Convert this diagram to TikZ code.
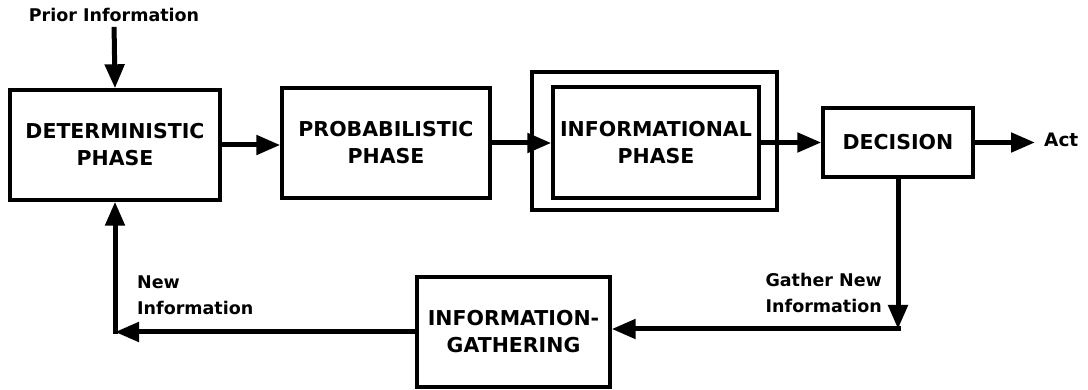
\documentclass[tikz,border=0pt]{standalone}
\usepackage{fontspec}
\setmainfont{DejaVu Sans}
\usetikzlibrary{arrows.meta}
\begin{document}
\begin{tikzpicture}[x=1pt,y=-1pt,
  blk/.style={draw, line width=3.4pt, inner sep=0pt, align=center,
    font=\fontsize{20.5}{27}\selectfont\bfseries},
  lbl/.style={inner sep=0pt, font=\fontsize{17.5}{26}\selectfont\bfseries},
  flow/.style={line width=5pt, -{Triangle[length=24pt,width=19pt]}},
  ]
\useasboundingbox (0,0) rectangle (1088,390);

\node[blk, minimum width=210pt, minimum height=110pt] (det) at (115,145) {DETERMINISTIC\\PHASE};
\node[blk, minimum width=208pt, minimum height=110pt] (prob) at (386,143) {PROBABILISTIC\\PHASE};
\node[blk, minimum width=245pt, minimum height=138pt] (outer) at (654.5,141) {};
\node[blk, minimum width=206pt, minimum height=111pt] (inner) at (656,142.5) {INFORMATIONAL\\PHASE};
\node[blk, minimum width=150pt, minimum height=69pt] (dec) at (898,142.5) {DECISION};
\node[blk, minimum width=193pt, minimum height=110pt] (gath) at (513.5,332) {INFORMATION-\\GATHERING};

\node[lbl] (prior) at (114,15) {Prior Information};
\node[lbl, anchor=west, font=\fontsize{18.5}{26}\selectfont\bfseries] (act) at (1044,140) {Act};
\node[lbl, align=left, anchor=west] (newinfo) at (137,295) {New\\Information};
\node[lbl, align=right, anchor=east] (gather) at (882,292.5) {Gather New\\Information};

\coordinate (c1) at (dec.south |- 0,329);
\coordinate (c2) at (det.south |- gath.west);

\draw[flow, shorten <=5pt] (prior.south) -- (det.north);
\draw[flow] (det.east) -- (det.east -| prob.west);
\draw[flow] (prob.east) -- (prob.east -| inner.west);
\draw[flow] (inner.east) -- (inner.east -| dec.west);
\draw[flow, shorten >=9pt] (dec.east) -- (dec.east -| act.west);
\draw[flow] (dec.south) -- (c1);
\draw[flow, line cap=rect] (c1) -- (c1 -| gath.east);
\draw[flow] (gath.west) -- (c2);
\draw[flow, line cap=rect] (c2) -- (det.south);
\end{tikzpicture}
\end{document}
